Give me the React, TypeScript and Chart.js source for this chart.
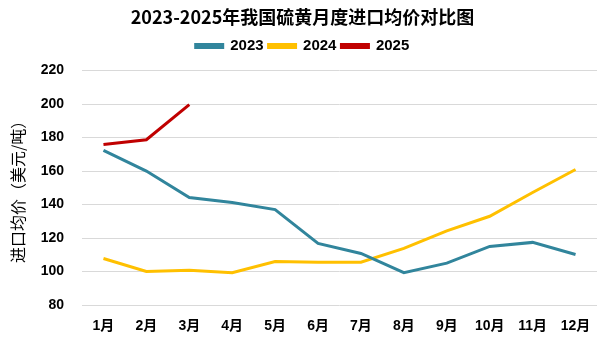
import React, { useEffect, useRef } from "react";
import { Chart, registerables } from "chart.js";

Chart.register(...registerables);

const months = ["1月", "2月", "3月", "4月", "5月", "6月", "7月", "8月", "9月", "10月", "11月", "12月"];
const data2023 = [172.4, 160, 144.2, 141.2, 137, 116.8, 110.8, 99.3, 105, 115, 117.4, 110.2];
const data2024 = [107.8, 100, 100.8, 99.3, 106, 105.5, 105.6, 113.8, 124.3, 133, 147.2, 160.9];
const data2025 = [175.9, 178.7, 199.7];
const yTicks = [80, 100, 120, 140, 160, 180, 200, 220];

const FONT = "'Liberation Sans', 'Noto Sans CJK SC', sans-serif";
const CJK = "'Noto Sans CJK SC', 'Liberation Sans', sans-serif";

const legendMargin = {
  id: "legendMargin",
  beforeInit(chart: any) {
    const fit = chart.legend.fit;
    chart.legend.fit = function () {
      fit.bind(this)();
      this.height += 7;
    };
  },
};

export default function App() {
  const ref = useRef<HTMLCanvasElement | null>(null);
  useEffect(() => {
    document.body.style.margin = "0";
    const ctx = ref.current!;
    const chart = new Chart(ctx, {
      type: "line",
      data: {
        labels: months,
        datasets: [
          { label: "2023", data: data2023, borderColor: "#31859C", backgroundColor: "#31859C", borderWidth: 3, pointRadius: 0, tension: 0 },
          { label: "2024", data: data2024, borderColor: "#FFC000", backgroundColor: "#FFC000", borderWidth: 3, pointRadius: 0, tension: 0 },
          { label: "2025", data: data2025, borderColor: "#C00000", backgroundColor: "#C00000", borderWidth: 3, pointRadius: 0, tension: 0 },
        ],
      },
      plugins: [legendMargin],
      options: {
        animation: false,
        responsive: false,
        maintainAspectRatio: false,
        layout: { padding: { left: 8, right: 8, top: 3, bottom: 0 } },
        plugins: {
          title: {
            display: true,
            text: "2023-2025年我国硫黄月度进口均价对比图",
            color: "#000",
            font: { family: CJK, size: 18, weight: "bold" },
            padding: { top: 3, bottom: 6 },
          },
          legend: {
            display: true,
            position: "top",
            labels: {
              boxWidth: 27,
              boxHeight: 3,
              color: "#000",
              font: { family: FONT, size: 15, weight: "bold" },
              padding: 5,
            },
          },
          tooltip: { enabled: false },
        },
        scales: {
          x: {
            offset: true,
            grid: { display: false },
            border: { display: false },
            ticks: { color: "#000", font: { family: FONT, size: 14, weight: "bold", lineHeight: 1 }, maxRotation: 0, padding: 6 },
          },
          y: {
            min: 80,
            max: 220,
            afterBuildTicks: (axis: any) => {
              axis.ticks = yTicks.map((v) => ({ value: v }));
            },
            afterFit: (axis: any) => {
              axis.width = 74;
            },
            grid: { color: "#D9D9D9", lineWidth: 1, drawTicks: false },
            border: { display: false },
            ticks: { color: "#000", font: { family: FONT, size: 14, weight: "bold" }, padding: 18 },
            title: {
              display: true,
              text: "进口均价（美元/吨）",
              color: "#000",
              font: { family: CJK, size: 16 },
              padding: { top: 0, bottom: 1 },
            },
          },
        },
      },
    });
    return () => chart.destroy();
  }, []);
  return <canvas ref={ref} width={605} height={339} style={{ display: "block" }} />;
}
